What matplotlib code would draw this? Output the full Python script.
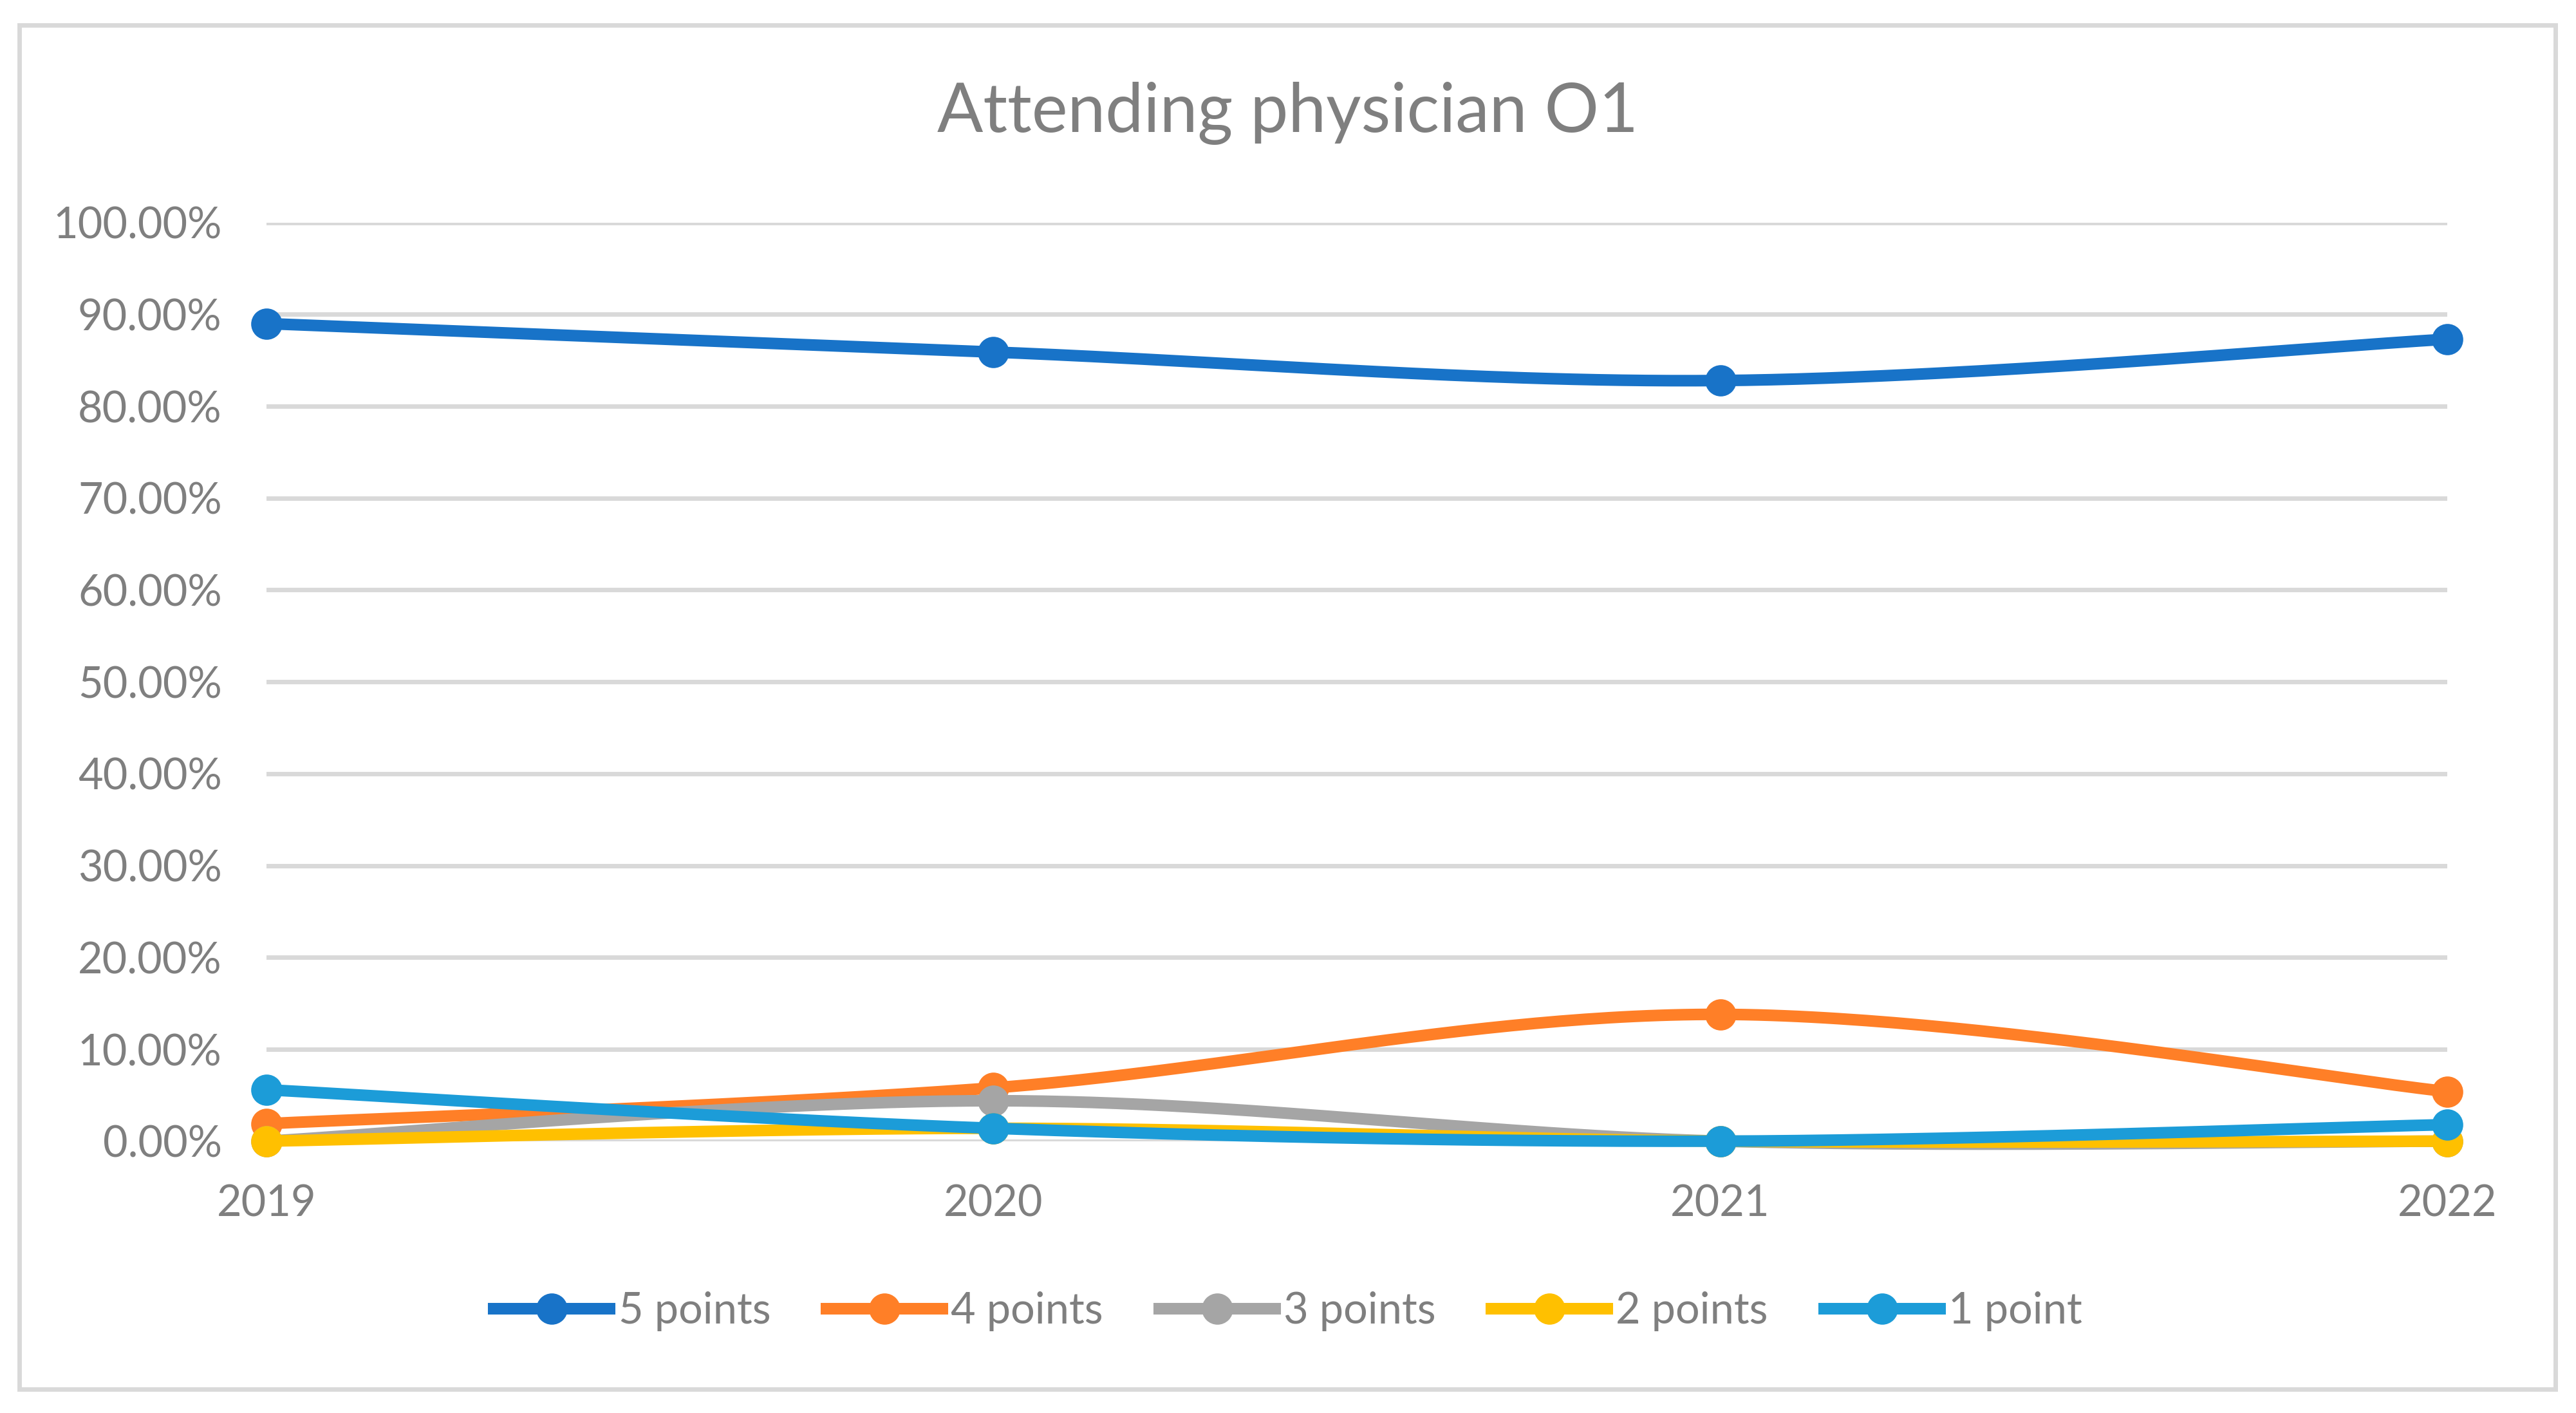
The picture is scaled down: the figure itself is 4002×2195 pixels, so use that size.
#折线图：主治医师 O1 各分值占比
import numpy as np
import matplotlib
matplotlib.use('Agg')
from matplotlib import pyplot as plt
from matplotlib.patches import Rectangle
from matplotlib.ticker import FuncFormatter

years = ['2019', '2020', '2021', '2022']
labels = ['5 points', '4 points', '3 points', '2 points', '1 point']
five_points = [0.890, 0.859, 0.828, 0.873]
four_points = [0.019, 0.058, 0.138, 0.054]
three_points = [0.0, 0.044, 0.0, 0.0]
two_points = [0.0, 0.014, 0.0, 0.0]
one_point = [0.056, 0.014, 0.0, 0.018]
colors = ['#1873C8', '#FF7F27', '#A5A5A5', '#FFC000', '#1C9CD8']

plt.rcParams['font.family'] = ['Lato', 'DejaVu Sans']
grey = '#7F7F7F'


# Excel 的平滑线大致是 Catmull-Rom 样条
def smooth(xs, ys, n=60):
    px = np.concatenate([[xs[0]], xs, [xs[-1]]])
    py = np.concatenate([[ys[0]], ys, [ys[-1]]])
    ox, oy = [], []
    for i in range(1, len(px) - 2):
        t = np.linspace(0, 1, n)
        for p, o in ((px, ox), (py, oy)):
            p0, p1, p2, p3 = p[i - 1], p[i], p[i + 1], p[i + 2]
            o.extend(0.5 * (2 * p1 + (-p0 + p2) * t
                            + (2 * p0 - 5 * p1 + 4 * p2 - p3) * t ** 2
                            + (-p0 + 3 * p1 - 3 * p2 + p3) * t ** 3))
    return np.array(ox), np.array(oy)


fig = plt.figure(figsize=(20.01, 10.975), dpi=200)
ax = fig.add_axes([414 / 4002, 422.3 / 2195, 3388 / 4002, 1427 / 2195])

x = np.arange(len(years), dtype=float)
series = [five_points, four_points, three_points, two_points, one_point]
for vals, lab, col in zip(series, labels, colors):
    sx, sy = smooth(x, np.array(vals))
    ax.plot(sx, sy, color=col, lw=6.5, solid_capstyle='round', clip_on=False)
    ax.plot(x, vals, 'o', color=col, ms=16.5, clip_on=False)
    ax.plot([], [], color=col, lw=6.5, marker='o', ms=16.5, label=lab)

ax.set_xlim(0, 3)
ax.set_ylim(0, 1)
ax.set_yticks(np.arange(0, 1.01, 0.1))
ax.yaxis.set_major_formatter(FuncFormatter(lambda v, p: '%.2f%%' % (v * 100)))
ax.set_xticks(x)
ax.set_xticklabels(years)
ax.grid(axis='y', color='#D9D9D9', lw=2.5)
ax.set_axisbelow(True)
for s in ax.spines.values():
    s.set_visible(False)
ax.tick_params(length=0, labelsize=24, labelcolor=grey)
ax.tick_params(axis='y', pad=25)
ax.tick_params(axis='x', pad=24)

fig.text(0.5, 1 - 176 / 2195, 'Attending physician O1', ha='center', va='center',
         fontsize=38, color=grey)

leg = fig.legend(loc='center', bbox_to_anchor=(0.5, 1 - 2037 / 2195), ncol=5,
                 frameon=False, fontsize=24, handlelength=2.7, handletextpad=0.2,
                 columnspacing=1.3, labelcolor=grey)

fig.patches.append(Rectangle((30 / 4002, 1 - 2158 / 2195), 3940 / 4002, 2119 / 2195,
                             transform=fig.transFigure, fill=False,
                             edgecolor='#D9D9D9', lw=2.5))

plt.savefig('out.png', dpi=200, facecolor='white')
